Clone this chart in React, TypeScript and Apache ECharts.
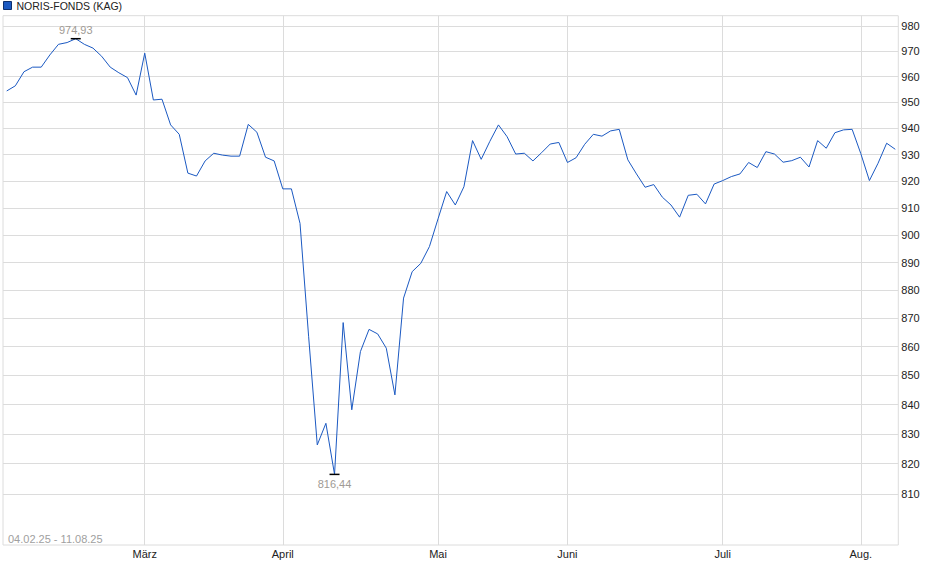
import React, { useEffect, useRef } from "react";
import * as echarts from "echarts";

// fund price, one value per point
const seriesName = "NORIS-FONDS (KAG)";
const prices = [
    954.4, 956.4, 961.9, 963.7, 963.7, 968.5, 972.7, 973.4, 974.93, 972.7,
    971.2, 968.0, 963.7, 961.5, 959.6, 952.8, 969.2, 950.9, 951.2, 941.3,
    937.7, 923.0, 921.9, 927.6, 930.5, 929.8, 929.4, 929.4, 941.5, 938.5,
    929.0, 927.6, 917.1, 917.1, 904.3, 863.5, 826.3, 833.6, 816.44, 868.5,
    838.2, 858.3, 866.1, 864.5, 859.5, 843.3, 877.2, 886.7, 889.7, 895.8,
    906.0, 916.1, 911.1, 917.9, 935.3, 928.2, 935.0, 941.3, 936.8, 930.2,
    930.5, 927.6, 930.7, 934.0, 934.6, 927.0, 928.8, 933.9, 937.7, 937.0,
    939.0, 939.6, 928.0, 922.7, 917.7, 918.7, 914.0, 911.1, 906.6, 914.7,
    915.1, 911.5, 918.9, 920.2, 921.7, 922.7, 927.0, 925.1, 931.1, 930.2,
    927.1, 927.7, 929.0, 925.3, 935.3, 932.4, 938.3, 939.4, 939.6, 930.4,
    920.2, 926.7, 934.3, 932.0,
];

// index of the first point of each month and its label
const monthIndex = [16, 32, 50, 65, 83, 99];
const monthLabels = ["März", "April", "Mai", "Juni", "Juli", "Aug."];

const yTicks = [810, 820, 830, 840, 850, 860, 870, 880, 890, 900, 910, 920, 930, 940, 950, 960, 970, 980];
const dateRange = "04.02.25 - 11.08.25";

const font = "Liberation Sans, Arial, sans-serif";
const lineColor = "#1b59c2";
const gridColor = "#dcdcdc";
const labelColor = "#222222";

const fmt = (v: number) => v.toFixed(2).replace(".", ",");

const App: React.FC = () => {
    const chartRef = useRef<HTMLDivElement>(null);

    useEffect(() => {
        if (!chartRef.current) return;
        const chart = echarts.init(chartRef.current, null, { renderer: "svg" });

        chart.setOption({
            animation: false,
            textStyle: { fontFamily: font },
            legend: {
                left: 0,
                top: 0,
                padding: [0, 3],
                icon: "rect",
                itemWidth: 8,
                itemHeight: 8,
                itemStyle: { borderColor: "#0d2f6e", borderWidth: 1 },
                textStyle: { fontSize: 10.5, color: labelColor, fontFamily: font },
                data: [seriesName],
            },
            grid: {
                left: 3,
                right: 41.7,
                top: 15.7,
                bottom: 34,
                show: true,
                borderColor: gridColor,
                borderWidth: 1,
                outerBoundsMode: "none",
            },
            xAxis: {
                type: "value",
                min: -0.43,
                max: 103.35,
                axisLine: { show: false },
                axisTick: { show: false, customValues: monthIndex },
                axisLabel: {
                    customValues: monthIndex,
                    formatter: (v: number) => monthLabels[monthIndex.indexOf(Math.round(v))] ?? "",
                    fontSize: 11,
                    color: labelColor,
                    fontFamily: font,
                    margin: 3,
                },
                splitLine: { show: true, lineStyle: { color: gridColor, width: 1 } },
            },
            yAxis: {
                type: "log",
                logBase: 10,
                position: "right",
                min: 793.3,
                max: 984.1,
                axisLine: { show: false },
                axisTick: { show: false, customValues: yTicks },
                axisLabel: {
                    customValues: yTicks,
                    formatter: (v: number) => String(Math.round(v)),
                    fontSize: 11,
                    color: labelColor,
                    fontFamily: font,
                    margin: 3,
                },
                splitLine: { show: true, lineStyle: { color: gridColor, width: 1 } },
            },
            graphic: [
                {
                    type: "text",
                    left: 8,
                    top: 533,
                    style: { text: dateRange, fill: "#a0a0a0", font: `11px ${font}` },
                },
            ],
            series: [
                {
                    name: seriesName,
                    type: "line",
                    data: prices.map((v, i) => [i, v]),
                    showSymbol: false,
                    symbol: "none",
                    color: lineColor,
                    lineStyle: { color: lineColor, width: 1 },
                    markPoint: {
                        symbol: "rect",
                        symbolSize: [10, 1.5],
                        itemStyle: { color: "#000000" },
                        label: {
                            fontSize: 11,
                            color: "#a09a94",
                            fontFamily: font,
                            formatter: (p: any) => fmt(p.value),
                        },
                        data: [
                            { type: "max", label: { position: "top", distance: 2 } },
                            { type: "min", label: { position: "bottom", distance: 3 } },
                        ],
                    },
                },
            ],
        });

        return () => chart.dispose();
    }, []);

    return (
        <div
            ref={chartRef}
            style={{ position: "fixed", left: 0, top: 0, width: 940, height: 579, background: "#ffffff" }}
        />
    );
};

export default App;
